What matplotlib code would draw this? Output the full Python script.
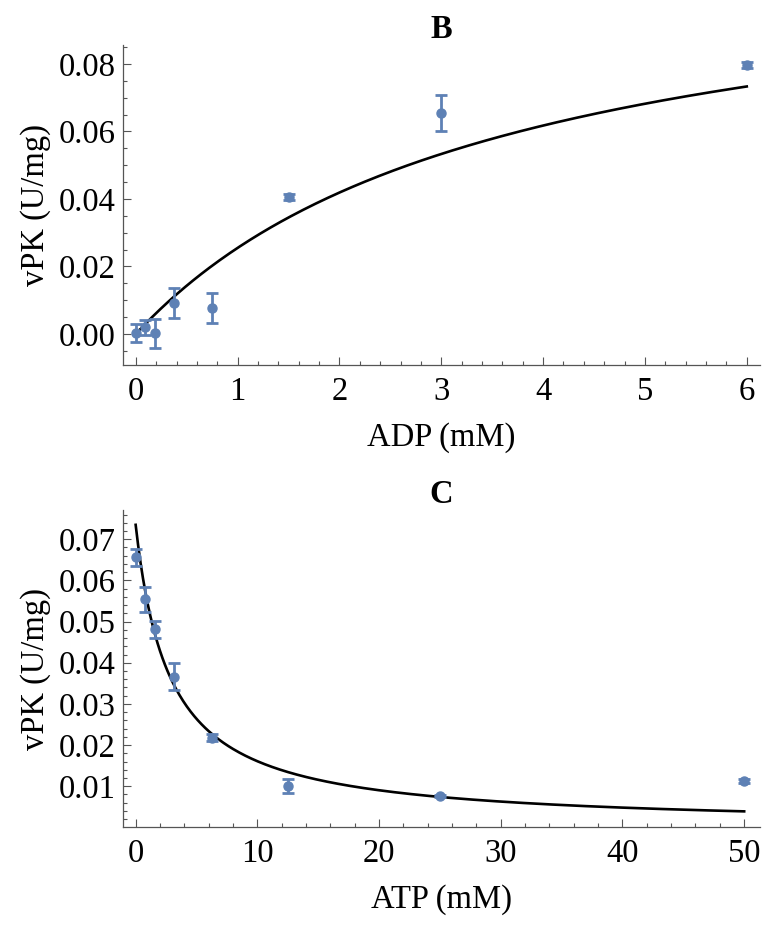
import numpy as np
import matplotlib
matplotlib.use("Agg")
import matplotlib.pyplot as plt
from matplotlib.ticker import MultipleLocator, FixedLocator

# ---- Panel B data (ADP) ----
adp_x = [0.0, 0.09375, 0.1875, 0.375, 0.75, 1.5, 3.0, 6.0]
adp_v = [0.0002, 0.0020, 0.0002, 0.0091, 0.0076, 0.0406, 0.0654, 0.0797]
adp_err = [0.0027, 0.0022, 0.0043, 0.0044, 0.0044, 0.0009, 0.0053, 0.0010]
# fitted Michaelis-Menten parameters
adp_vmax = 0.1173
adp_km = 3.6

# ---- Panel C data (ATP) ----
atp_x = [0.0, 0.78125, 1.5625, 3.125, 6.25, 12.5, 25.0, 50.0]
atp_v = [0.0656, 0.0554, 0.0481, 0.0366, 0.0218, 0.0100, 0.0076, 0.0112]
atp_err = [0.0020, 0.0030, 0.0021, 0.0033, 0.0008, 0.0017, 0.0003, 0.0005]
# fitted inhibition curve parameters
atp_v0 = 0.0735
atp_ki = 2.8

B_yticks = [0.00, 0.02, 0.04, 0.06, 0.08]
B_ylabels = ["0.00", "0.02", "0.04", "0.06", "0.08"]
C_yticks = [0.01, 0.02, 0.03, 0.04, 0.05, 0.06, 0.07]
C_ylabels = ["0.01", "0.02", "0.03", "0.04", "0.05", "0.06", "0.07"]

plt.rcParams['font.family'] = ['Liberation Serif', 'DejaVu Serif']
plt.rcParams['mathtext.fontset'] = 'stix'

PT_COLOR = '#5E81B5'
AX_COLOR = '#555555'
FS = 23.5

fig = plt.figure(figsize=(7.62, 9.26), dpi=100)
W, H = 762, 926

def make_ax(left, top, right, bottom):
    return fig.add_axes([left / W, 1 - bottom / H, (right - left) / W, (bottom - top) / H])

def style(ax):
    for s in ['top', 'right']:
        ax.spines[s].set_visible(False)
    for s in ['left', 'bottom']:
        ax.spines[s].set_color(AX_COLOR)
        ax.spines[s].set_linewidth(0.9)
    ax.tick_params(which='both', direction='in', color=AX_COLOR, width=0.8,
                   labelsize=FS, labelcolor='black')
    ax.tick_params(which='major', length=5.5)
    ax.tick_params(which='minor', length=3)
    ax.tick_params(axis='x', pad=8)
    ax.tick_params(axis='y', pad=5)

# Panel B
axB = make_ax(123, 45, 760, 365)
xs = np.linspace(0, 6, 300)
axB.plot(xs, adp_vmax * xs / (adp_km + xs), color='black', lw=1.9, zorder=2)
axB.errorbar(adp_x, adp_v, yerr=adp_err, fmt='o', color=PT_COLOR, ms=6.5,
             elinewidth=2.0, capsize=4.5, capthick=2.0, zorder=3, clip_on=False)
axB.set_xlim(-0.126, 6.13)
axB.set_ylim(-0.0092, 0.0856)
axB.xaxis.set_major_locator(MultipleLocator(1))
axB.xaxis.set_minor_locator(MultipleLocator(0.2))
axB.yaxis.set_major_locator(FixedLocator(B_yticks))
axB.set_yticklabels(B_ylabels)
axB.yaxis.set_minor_locator(MultipleLocator(0.005))
style(axB)
axB.set_xlabel("ADP (mM)", fontsize=FS, labelpad=11)
axB.set_ylabel("vPK (U/mg)", fontsize=FS, labelpad=6)
axB.set_title("B", fontsize=FS, fontweight='bold', pad=5, x=(441 - 123) / (760 - 123))

# Panel C
axC = make_ax(123, 510, 760, 827)
xs2 = np.linspace(0, 50, 500)
axC.plot(xs2, atp_v0 / (1 + xs2 / atp_ki), color='black', lw=1.9, zorder=2)
axC.errorbar(atp_x, atp_v, yerr=atp_err, fmt='o', color=PT_COLOR, ms=6.5,
             elinewidth=2.0, capsize=4.5, capthick=2.0, zorder=3, clip_on=False)
axC.set_xlim(-1.04, 51.3)
axC.set_ylim(0.0001, 0.0771)
axC.xaxis.set_major_locator(MultipleLocator(10))
axC.xaxis.set_minor_locator(MultipleLocator(2))
axC.yaxis.set_major_locator(FixedLocator(C_yticks))
axC.set_yticklabels(C_ylabels)
axC.yaxis.set_minor_locator(MultipleLocator(0.002))
style(axC)
axC.set_xlabel("ATP (mM)", fontsize=FS, labelpad=11)
axC.set_ylabel("vPK (U/mg)", fontsize=FS, labelpad=6)
axC.set_title("C", fontsize=FS, fontweight='bold', pad=4, x=(441 - 123) / (760 - 123))

fig.savefig("out.png", dpi=100)
